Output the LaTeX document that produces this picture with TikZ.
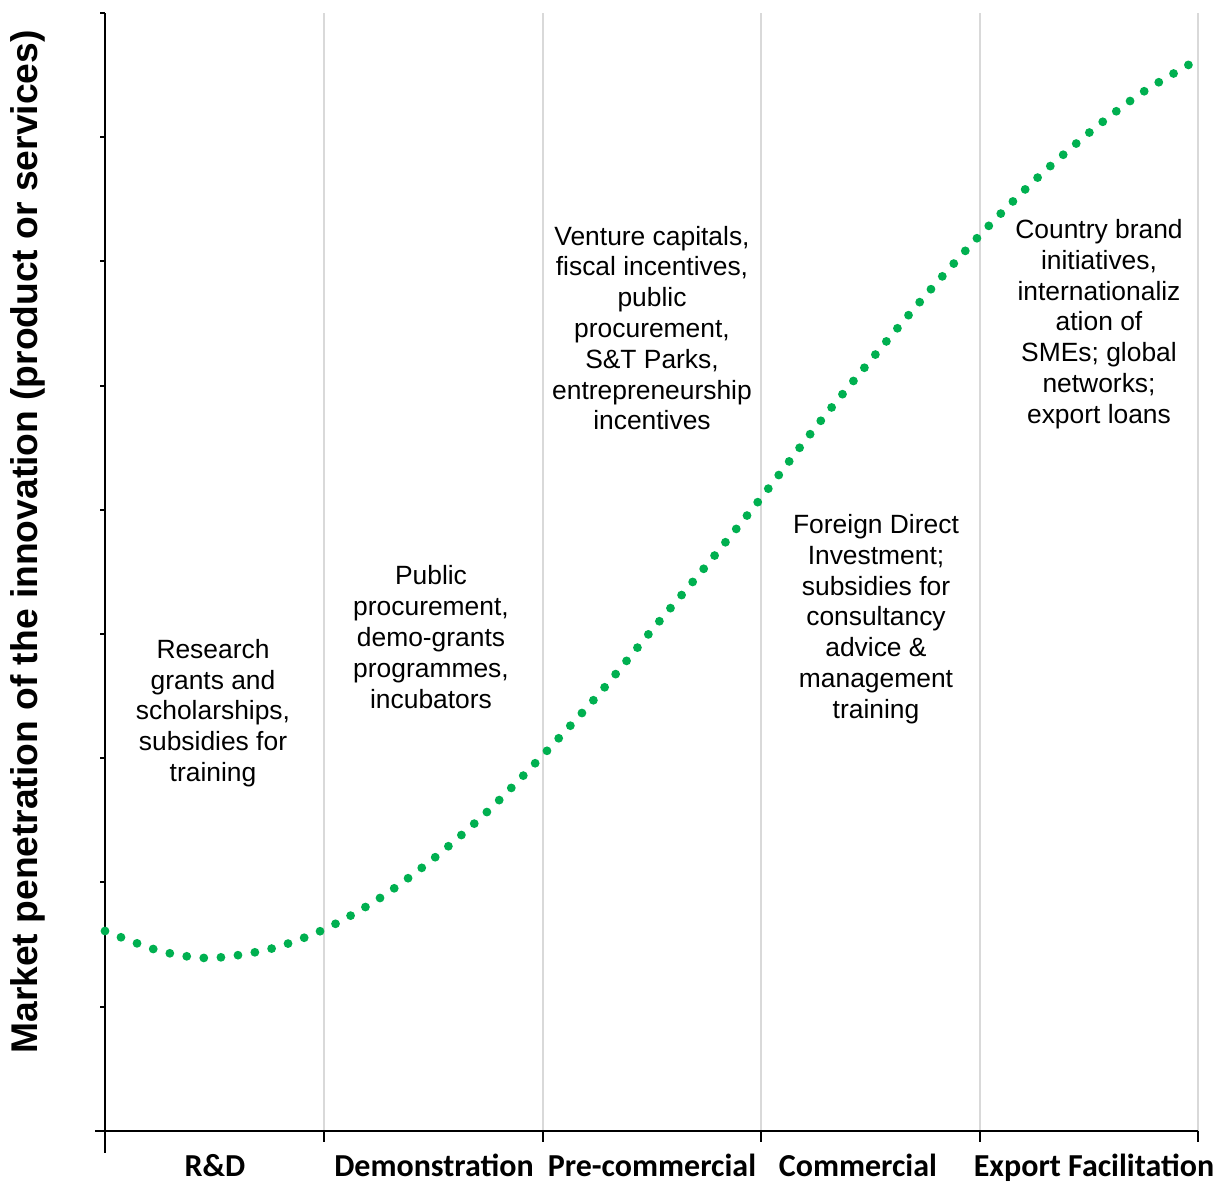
\documentclass[tikz,border=0pt]{standalone}
\usepackage{fontspec}
\setmainfont{Liberation Sans}
\newfontfamily\stagefont{Carlito}
\definecolor{curvegreen}{RGB}{0,176,80}
\definecolor{gridgray}{RGB}{217,217,217}

\begin{document}
\begin{tikzpicture}[x=0.5pt, y=-0.5pt,
  every node/.style = {align=center, inner sep=0pt,
    font=\fontsize{13.2}{15.4}\selectfont}]
    \tikzstyle{stage}=[font=\stagefont\bfseries\fontsize{16}{19}\selectfont, anchor=base]
    \tikzstyle{gridline}=[draw=gridgray, line width=1pt]
    \tikzstyle{axisline}=[draw=black, line width=1pt]
    \tikzstyle{dotcurve}=[draw=curvegreen, line width=4.4pt, line cap=round,
      dash pattern=on 0pt off 8.58pt]
  \useasboundingbox (0,0) rectangle (1232,1183);
  % stage grid
  \foreach \x in {324,543,761,980,1198}
    \draw[gridline] (\x,13) -- (\x,1131);
  % axes
  \coordinate (top) at (105,13);
  \coordinate (origin) at (105,1131);
  \coordinate (right) at (1198,1131);
  \draw[axisline] (top) -- ([yshift=-11]origin);
  \draw[axisline] ([xshift=-5]origin) -- (right);
  \foreach \y in {0,...,8}
    \draw[axisline] (100,{13+124.2*\y}) -- (105,{13+124.2*\y});
  \foreach \x in {324,543,761,980,1198}
    \draw[axisline] (\x,1131) -- (\x,1142);
  % market penetration curve
  \draw[dotcurve] plot[smooth] coordinates {
    (105,931) (160,951) (210,958) (270,949) (325,929) (380,898)
    (433,859) (488,811) (543,755) (598,695) (652,630) (706,566)
    (761,498) (815,428) (870,361) (925,296) (980,235) (1035,180)
    (1090,132) (1140,94) (1190,64)};
  % axis title
  \node[rotate=90, font=\bfseries\fontsize{18.6}{22}\selectfont] (ylabel) at (28,542)
    {Market penetration of the innovation (product or services)};
  % stages
  \node[stage] (rd) at (215,1176) {R\&D};
  \node[stage] (demo) at (434,1176) {Demonstration};
  \node[stage] (precomm) at (652,1176) {Pre-commercial};
  \node[stage] (comm) at (858,1176) {Commercial};
  \node[stage] (export) at (1094,1176) {Export Facilitation};
  % policy instruments
  \node (research) at (213,713) {Research\\grants and\\scholarships,\\subsidies for\\training};
  \node (publicproc) at (431,637) {Public\\procurement,\\demo-grants\\programmes,\\incubators};
  \node (venture) at (652,328) {Venture capitals,\\fiscal incentives,\\public\\procurement,\\S\&T Parks,\\entrepreneurship\\incentives};
  \node (fdi) at (876,619) {Foreign Direct\\Investment;\\subsidies for\\consultancy\\advice \&\\management\\training};
  \node (brand) at (1099,324) {Country brand\\initiatives,\\internationaliz\\ation of\\SMEs; global\\networks;\\export loans};
\end{tikzpicture}
\end{document}
